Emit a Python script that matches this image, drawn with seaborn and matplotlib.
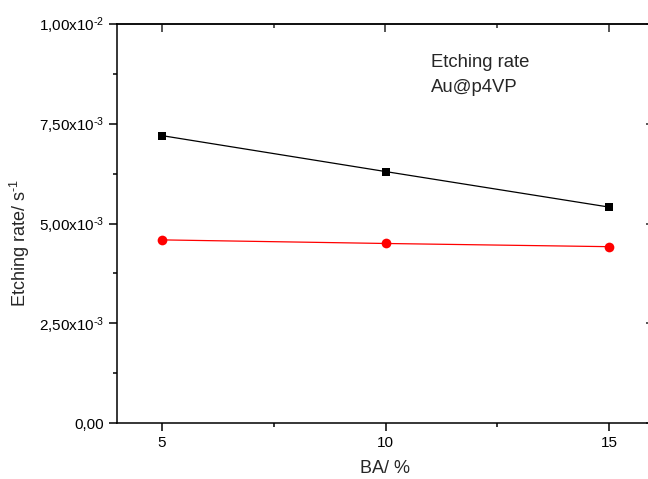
import matplotlib
matplotlib.use("Agg")
import matplotlib.pyplot as plt
import seaborn as sns
import pandas as pd
from matplotlib.ticker import FixedLocator, FixedFormatter, MultipleLocator

# ---- data ----
ba_percent = [5, 10, 15]
rate_black = [7.20e-3, 6.30e-3, 5.41e-3]
rate_red = [4.59e-3, 4.50e-3, 4.42e-3]
x_ticks = [5, 10, 15]
x_tick_labels = ["5", "10", "15"]
y_ticks = [0.0, 2.5e-3, 5.0e-3, 7.5e-3, 1.0e-2]
y_tick_labels = ["0,00", r"2,50x10$^{\text{-3}}$", r"5,00x10$^{\text{-3}}$",
                 r"7,50x10$^{\text{-3}}$", r"1,00x10$^{\text{-2}}$"]
annotation_lines = ["Etching rate", "Au@p4VP"]
x_label = "BA/ %"
y_label = r"Etching rate/ s$^{\text{-1}}$"

sns.set_style("ticks")
plt.rcParams["font.family"] = ["Liberation Sans", "DejaVu Sans"]
plt.rcParams["mathtext.fontset"] = "custom"
plt.rcParams["mathtext.rm"] = "Liberation Sans"
plt.rcParams["mathtext.it"] = "Liberation Sans:italic"
plt.rcParams["mathtext.bf"] = "Liberation Sans:bold"

W, H = 648, 479
fig = plt.figure(figsize=(W / 100, H / 100), dpi=100)
L, R, T, B = 117, 654, 23.7, 423.3
ax = fig.add_axes([L / W, 1 - B / H, (R - L) / W, (B - T) / H])

df_black = pd.DataFrame({"x": ba_percent, "y": rate_black})
df_red = pd.DataFrame({"x": ba_percent, "y": rate_red})
sns.lineplot(data=df_black, x="x", y="y", ax=ax, color="black", marker="s",
             markersize=6.0, markeredgewidth=0, linewidth=0.9)
sns.lineplot(data=df_red, x="x", y="y", ax=ax, color="#ff0000", marker="o",
             markersize=7.0, markeredgewidth=0, linewidth=0.9)

ax.set_xlim(4, 16)
ax.set_ylim(0, 0.01)

ax.xaxis.set_major_locator(FixedLocator(x_ticks))
ax.xaxis.set_major_formatter(FixedFormatter(x_tick_labels))
ax.xaxis.set_minor_locator(MultipleLocator(2.5))
ax.yaxis.set_major_locator(FixedLocator(y_ticks))
ax.yaxis.set_major_formatter(FixedFormatter(y_tick_labels))
ax.yaxis.set_minor_locator(MultipleLocator(1.25e-3))

for s in ax.spines.values():
    s.set_visible(True)
    s.set_linewidth(1.1)
    s.set_color("black")

ax.tick_params(which="major", direction="out", length=5.8, width=1.1,
               labelsize=11, colors="black", pad=3.5)
ax.tick_params(which="minor", direction="out", length=3, width=1.1, colors="black")

# inward ticks on top and right
top = ax.secondary_xaxis("top")
top.xaxis.set_major_locator(FixedLocator(x_ticks))
top.xaxis.set_minor_locator(MultipleLocator(2.5))
top.tick_params(which="major", direction="in", length=5.8, width=1.1, labeltop=False)
top.tick_params(which="minor", direction="in", length=3, width=1.1)
top.spines["top"].set_linewidth(1.1)
right = ax.secondary_yaxis("right")
right.yaxis.set_major_locator(FixedLocator(y_ticks))
right.yaxis.set_minor_locator(MultipleLocator(1.25e-3))
right.tick_params(which="major", direction="in", length=5.8, width=1.1, labelright=False)
right.tick_params(which="minor", direction="in", length=3, width=1.1)

ax.set_xlabel(x_label, fontsize=13)
ax.set_ylabel(y_label, fontsize=13)
ax.xaxis.set_label_coords(0.5, -0.125)
ax.xaxis.label.set_va("baseline")
ax.yaxis.set_label_coords(-0.158, 0.45)

ax.text(0.585, 0.891, annotation_lines[0], transform=ax.transAxes, fontsize=13.3,
        ha="left", va="baseline")
ax.text(0.585, 0.829, annotation_lines[1], transform=ax.transAxes, fontsize=13.3,
        ha="left", va="baseline")

fig.savefig("out.png", dpi=100)
